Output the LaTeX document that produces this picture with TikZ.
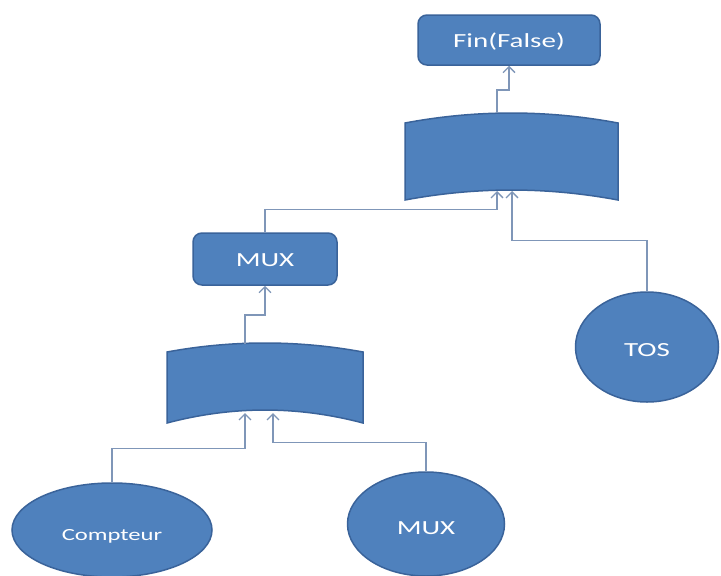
\documentclass[tikz,border=0pt]{standalone}
\usepackage{fontspec}
\setmainfont{Carlito}
\usetikzlibrary{shapes.geometric,arrows.meta}
\definecolor{shapefill}{HTML}{4F81BD}
\definecolor{shapeedge}{HTML}{3A639A}
\definecolor{wire}{HTML}{7F96B8}
% labels are set wide; the second argument drops the baseline below the node centre
\newcommand{\widelabel}[3]{\raisebox{-#2pt}[0pt][0pt]{\fontsize{#1}{#1}\selectfont\scalebox{1.45}[1]{#3}}}
\begin{document}
\begin{tikzpicture}[x=1pt,y=-1pt,
  box/.style={draw=shapeedge, fill=shapefill, line width=1.5pt, rounded corners=9pt,
              text=white, inner sep=0pt},
  blob/.style={ellipse, draw=shapeedge, fill=shapefill, line width=1.5pt,
               text=white, inner sep=0pt},
  gate/.style={draw=shapeedge, fill=shapefill, line width=1.5pt},
  conn/.style={draw=wire, line width=1.3pt,
               -{Straight Barb[length=6pt,width=12pt,line width=1.3pt]}}
]
\fill[white] (0,0) rectangle (721,576);
\useasboundingbox (0,0) rectangle (721,576);

% upper gate: both edges bow upwards (parabolic arcs)
\draw[gate] (405,123) .. controls (476,109.7) and (547,109.7) .. (618,123)
  -- (618,200) .. controls (547,186.7) and (476,186.7) .. (405,200) -- cycle;
\coordinate (g1out) at (497,113);
\coordinate (g1inA) at (497,191);
\coordinate (g1inB) at (512,191);

% lower gate
\draw[gate] (167,352) .. controls (232.3,340) and (297.7,340) .. (363,352)
  -- (363,423) .. controls (297.7,405.7) and (232.3,405.7) .. (167,423) -- cycle;
\coordinate (g2out) at (245,344);
\coordinate (g2inA) at (245,413);
\coordinate (g2inB) at (273,413);

% nodes
\node[box, minimum width=182pt, minimum height=50pt] (fin) at (509,40)
  {\widelabel{20}{7}{Fin(False)}};
\node[box, minimum width=144pt, minimum height=52pt] (mux) at (265,259)
  {\widelabel{20}{7}{MUX}};
\node[blob, minimum width=200pt, minimum height=94pt] (cpt) at (112,530)
  {\widelabel{17}{10}{Compteur}};
\node[blob, minimum width=157pt, minimum height=104pt] (mx) at (426,524)
  {\widelabel{20}{10}{MUX}};
\node[blob, minimum width=143pt, minimum height=110pt] (tos) at (647,347)
  {\widelabel{20}{9}{TOS}};

% connectors
\draw[conn] (cpt.north) -- ++(0,-34) -| (g2inA);
\draw[conn] (mx.north) -- ++(0,-29) -| (g2inB);
\draw[conn] (g2out) -- ++(0,-29) -| (mux.south);
\draw[conn] (mux.north) -- ++(0,-23) -| (g1inA);
\draw[conn] (tos.north) -- ++(0,-51) -| (g1inB);
\draw[conn] (g1out) -- ++(0,-23) -| (fin.south);
\end{tikzpicture}
\end{document}
